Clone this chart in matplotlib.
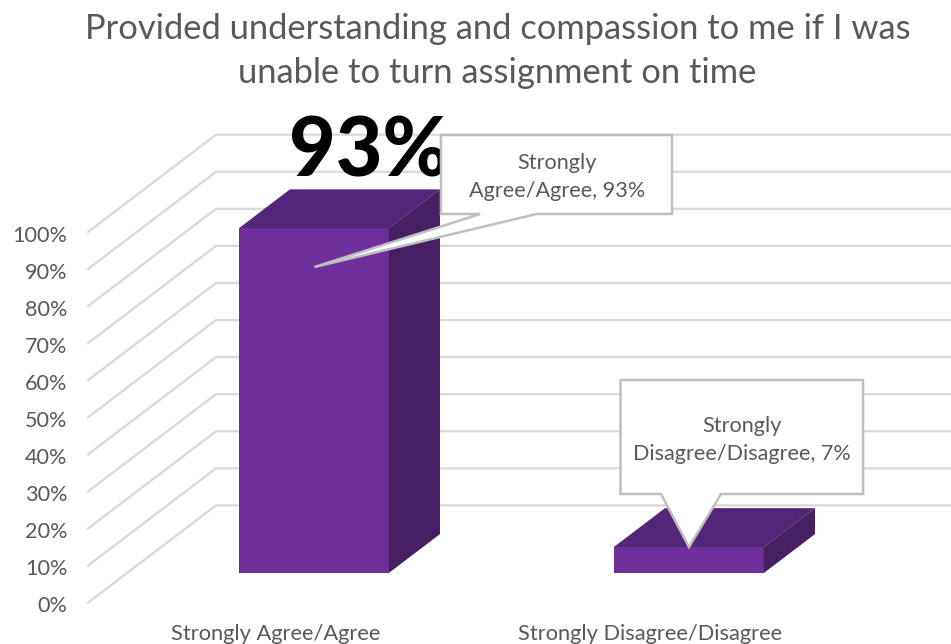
import matplotlib
matplotlib.use("Agg")
import matplotlib.pyplot as plt
from matplotlib.patches import Polygon
from matplotlib.transforms import Affine2D

plt.rcParams['font.family'] = ['Lato', 'DejaVu Sans']

title = "Provided understanding and compassion to me if I was\nunable to turn assignment on time"
categories = ["Strongly Agree/Agree", "Strongly Disagree/Disagree"]
values = [93, 7]
callouts = ["Strongly\nAgree/Agree, 93%", "Strongly\nDisagree/Disagree, 7%"]
big_label = "93%"
y_ticks = list(range(0, 101, 10))
y_labels = [f"{t}%" for t in y_ticks]

W, H = 951, 644
fig = plt.figure(figsize=(W / 100, H / 100), dpi=100)
ax = fig.add_axes([88 / W, (H - 602.7) / H, 750 / W, (602.7 - 232) / H])
ax.set_xlim(-0.5, 1.5)
ax.set_ylim(0, 100)
for s in ax.spines.values():
    s.set_visible(False)
ax.patch.set_visible(False)

# oblique depth of the 3-D box: d=0 front of floor, d=1 back wall
DX, DV = 128 / 375, 26.25
D1, D2 = 0.305, 0.705
def proj(x, v, d):
    return (x + d * DX, v + d * DV)

GRID = "#D9D9D9"
for t in y_ticks:
    x0, v0 = proj(-0.5, t, 0)
    x1, v1 = proj(-0.5, t, 1)
    x2, v2 = proj(1.5, t, 1)
    ax.plot([x0, x1, x2], [v0, v1, v2], color=GRID, lw=1.6, clip_on=False,
            solid_joinstyle="miter", zorder=1)

FRONT, TOP, SIDE = "#70309C", "#54267A", "#471F63"
BW = 0.4
fx = [i - 0.002 + D1 * DX for i in range(len(values))]
ax.bar(fx, values, width=BW, bottom=D1 * DV, color=FRONT, zorder=3, clip_on=False)
for i, v in enumerate(values):
    l, r = i - 0.002 - BW / 2, i - 0.002 + BW / 2
    top = [proj(l, v, D1), proj(r, v, D1), proj(r, v, D2), proj(l, v, D2)]
    side = [proj(r, 0, D1), proj(r, v, D1), proj(r, v, D2), proj(r, 0, D2)]
    ax.add_patch(Polygon(top, closed=True, fc=TOP, ec="none", zorder=3, clip_on=False))
    ax.add_patch(Polygon(side, closed=True, fc=SIDE, ec="none", zorder=3, clip_on=False))

ax.set_xticks(range(len(categories)), categories)
ax.set_yticks(y_ticks, y_labels)
ax.tick_params(axis="both", length=0, colors="#595959")
ax.tick_params(axis="y", labelsize=15.6, pad=15)
ax.tick_params(axis="x", labelsize=15.75, pad=15.4)
shift = Affine2D().translate(0, -1.6)
for lab in ax.get_yticklabels():
    lab.set_transform(lab.get_transform() + shift)

# pixel transform (origin top-left) for the annotation shapes
px = Affine2D().scale(1, -1).translate(0, H)
BOX = "#BFBFBF"
shapes = [
    [(441, 135), (672, 135), (672, 214), (536.5, 214), (314.5, 267), (480, 214), (441, 214)],
    [(620.5, 380), (863, 380), (863, 494), (721, 494), (689, 547), (661, 494), (620.5, 494)],
]
anchors = [(557, 177), (742, 440)]
for pts, txt, (tx, ty) in zip(shapes, callouts, anchors):
    ax.add_patch(Polygon(pts, closed=True, fc="white", ec=BOX, lw=1.8, transform=px,
                         clip_on=False, zorder=5, joinstyle="miter"))
    ax.text(tx, ty, txt, transform=px, ha="center", va="center", color="#595959",
            fontsize=15.6, linespacing=1.5, zorder=6)

ax.text(369, 153, big_label, transform=px, ha="center", va="center", color="black",
        fontsize=58, fontweight="black", zorder=4)

fig.text(497.5 / W, 1 - 51 / H, title, ha="center", va="center", color="#595959",
         fontsize=24.8, linespacing=1.43)

fig.savefig("out.png", dpi=100)
